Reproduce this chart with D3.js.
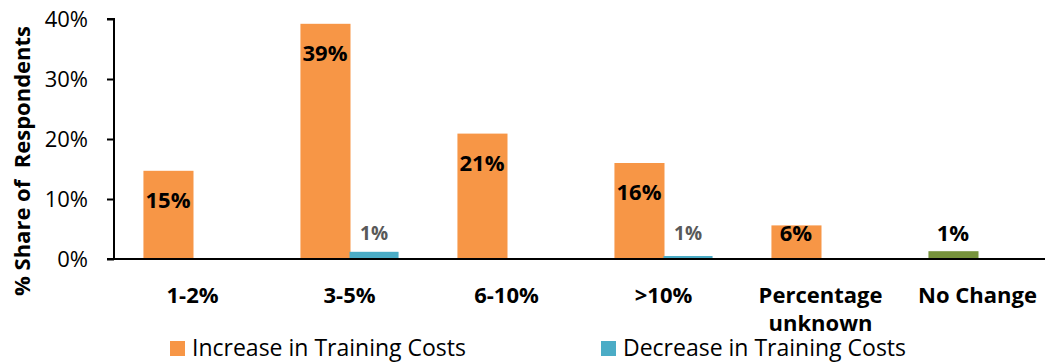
<!DOCTYPE html>
<html>
<head>
<meta charset="utf-8">
<script src="https://cdn.jsdelivr.net/npm/d3@7"></script>
<style>
  body { margin: 0; background: #fff; }
  text { font-family: "Open Sans", sans-serif; }
</style>
</head>
<body>
<svg id="chart" width="1045" height="362"></svg>
<script>
const categories = ['1-2%', '3-5%', '6-10%', '>10%', 'Percentage unknown', 'No Change'];
const increase = [0.147, 0.392, 0.209, 0.160, 0.056, 0.013];
const decrease = [0, 0.012, 0, 0.005, 0, 0];
const increaseLabels = ['15%', '39%', '21%', '16%', '6%', '1%'];
const decreaseLabels = ['', '1%', '', '1%', '', ''];
const yTicks = [0, 0.1, 0.2, 0.3, 0.4];
const seriesNames = ['Increase in Training Costs', 'Decrease in Training Costs'];

const colors = { increase: '#F79646', decrease: '#4BACC6', noChange: '#77933C' };

const svg = d3.select('#chart');
const plotLeft = 114, plotTop = 19, plotBottom = 259;

const x = d3.scaleBand().domain(categories).range([plotLeft, plotLeft + 6 * 157]);
const x1 = d3.scaleBand().domain(['increase', 'decrease'])
  .range([0, x.bandwidth()]).paddingOuter(0.6);
const y = d3.scaleLinear().domain([0, 0.4]).range([plotBottom, plotTop]);

// y axis
const yAxis = svg.append('g')
  .attr('transform', `translate(${plotLeft},0)`)
  .call(d3.axisLeft(y).tickValues(yTicks).tickFormat(d3.format('.0%')).tickSize(7).tickPadding(19));
yAxis.select('.domain').attr('stroke', '#000').attr('stroke-width', 2).attr('d', `M-7,${plotTop}H0V${plotBottom}`);
yAxis.selectAll('.tick line').attr('stroke', '#000').attr('stroke-width', 2);
yAxis.selectAll('.tick text').attr('font-size', 22).attr('fill', '#000').attr('dy', '0.36em')
  .style('font-family', '"Open Sans", sans-serif');

svg.append('text')
  .attr('transform', `translate(30,161) rotate(-90)`)
  .attr('text-anchor', 'middle')
  .attr('font-size', 22).attr('font-weight', 'bold')
  .attr('xml:space', 'preserve')
  .text('% Share of  Respondents');

// bars
const groups = svg.append('g').selectAll('g')
  .data(categories)
  .join('g')
  .attr('transform', d => `translate(${x(d)},0)`);

groups.append('rect')
  .attr('x', x1('increase'))
  .attr('width', x1.bandwidth() + 1)
  .attr('y', (d, i) => y(increase[i]))
  .attr('height', (d, i) => y(0) - y(increase[i]))
  .attr('fill', d => d === 'No Change' ? colors.noChange : colors.increase);

groups.append('rect')
  .attr('x', x1('decrease'))
  .attr('width', x1.bandwidth())
  .attr('y', (d, i) => y(decrease[i]))
  .attr('height', (d, i) => y(0) - y(decrease[i]))
  .attr('fill', colors.decrease);

const labelY = v => Math.min(y(v) + 29, y(0) - 26);

groups.append('text')
  .attr('x', x1('increase') + x1.bandwidth() / 2)
  .attr('y', (d, i) => labelY(increase[i]))
  .attr('dy', '0.36em')
  .attr('text-anchor', 'middle')
  .attr('font-size', 22).attr('font-weight', 'bold').attr('fill', '#000')
  .text((d, i) => increaseLabels[i]);

groups.append('text')
  .attr('x', x1('decrease') + x1.bandwidth() / 2)
  .attr('y', (d, i) => labelY(decrease[i]))
  .attr('dy', '0.36em')
  .attr('text-anchor', 'middle')
  .attr('font-size', 19).attr('font-weight', 'bold').attr('fill', '#595959')
  .text((d, i) => decreaseLabels[i]);

// x axis
svg.append('line')
  .attr('x1', plotLeft - 7).attr('x2', 1045)
  .attr('y1', plotBottom).attr('y2', plotBottom)
  .attr('stroke', '#000').attr('stroke-width', 2);

const catText = svg.append('g').selectAll('text')
  .data(categories)
  .join('text')
  .attr('x', d => x(d) + x.bandwidth() / 2)
  .attr('y', 295)
  .attr('text-anchor', 'middle')
  .attr('font-size', 22).attr('font-weight', 'bold');
catText.each(function (d) {
  const words = d === 'Percentage unknown' ? ['Percentage', 'unknown'] : [d];
  d3.select(this).selectAll('tspan').data(words).join('tspan')
    .attr('x', x(d) + x.bandwidth() / 2)
    .attr('dy', (w, i) => i === 0 ? '0.36em' : 28)
    .text(w => w);
});

// legend
const legend = svg.append('g').selectAll('g')
  .data(seriesNames)
  .join('g')
  .attr('transform', (d, i) => `translate(${[170, 601][i]},348)`);
legend.append('rect')
  .attr('x', 0).attr('y', -7).attr('width', 15).attr('height', 15)
  .attr('fill', (d, i) => i === 0 ? colors.increase : colors.decrease);
legend.append('text')
  .attr('x', 22).attr('dy', '0.36em')
  .attr('font-size', 23).attr('fill', '#000')
  .text(d => d);
</script>
</body>
</html>
